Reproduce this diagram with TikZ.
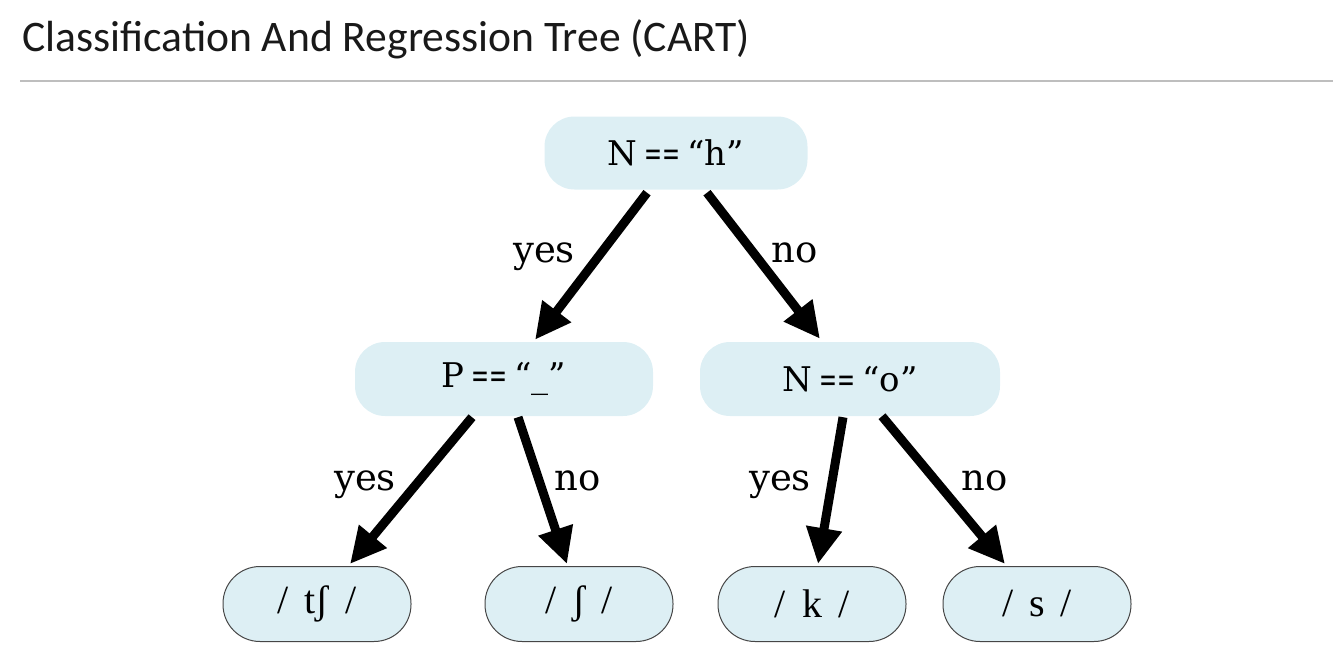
\documentclass[tikz,border=0pt]{standalone}
\usepackage{graphicx}
\usepackage{fontspec}
\setmainfont{DejaVu Serif}
\newfontfamily\titlefont{Carlito}
\newfontfamily\leaffont{Liberation Serif}
\usetikzlibrary{arrows.meta,calc}
\definecolor{nodefill}{RGB}{221,239,244}
\definecolor{leafline}{RGB}{70,70,70}
\definecolor{rulegray}{RGB}{190,190,190}
\newcommand{\eqeq}{\scalebox{0.63}[1]{==}}
\newcommand{\tsp}{\hspace{7pt}}
\newcommand{\lsp}{\hspace{16pt}}
\begin{document}
\begin{tikzpicture}[x=1pt,y=-1pt,
  testbox/.style={fill=nodefill, rounded corners=30pt, minimum height=74pt, inner sep=0pt,
     font=\fontsize{34}{38}\selectfont},
  leafbox/.style={fill=nodefill, draw=leafline, line width=1pt, rounded corners=37pt,
     minimum width=188pt, minimum height=75pt, inner sep=0pt,
     font=\leaffont\fontsize{40}{44}\selectfont},
  edgelabel/.style={anchor=base, inner sep=0pt, font=\fontsize{37}{40}\selectfont},
  arrowline/.style={line width=9pt, -{Triangle[length=36pt,width=34pt]}},
]
\useasboundingbox (0,0) rectangle (1342,665);

\node[anchor=base west, inner sep=0pt, font=\titlefont\fontsize{43.6}{48}\selectfont, text=black!90] (title) at (22,51) {Classification And Regression Tree (CART)};
\draw[rulegray, line width=1.5pt] (20,81) -- (1333,81);

\node[testbox, minimum width=263pt, minimum height=73pt] (top) at (676,153) {N\tsp\eqeq\tsp“h”};
\node[testbox, minimum width=298pt] (pl) at (504,379) {P\tsp\eqeq\tsp“\_”};
\node[testbox, minimum width=300pt] (pr) at (850,379) {N\tsp\eqeq\tsp“o”};

\node[leafbox] (l1) at (317,604) {/\lsp tʃ\lsp/};
\node[leafbox] (l2) at (579,604) {/\lsp ʃ\lsp/};
\node[leafbox] (l3) at (812,604) {/\lsp k\lsp/};
\node[leafbox] (l4) at (1037,604) {/\lsp s\lsp/};

\draw[arrowline] ($(top.south)+(-29,3)$) -- ($(pl.north)+(31,-2)$);
\draw[arrowline] ($(top.south)+(31,3)$) -- ($(pr.north)+(-30,-3)$);
\draw[arrowline] ($(pl.south)+(-32,1)$) -- ($(l1.north)+(33,-2)$);
\draw[arrowline] ($(pl.south)+(14,1)$) -- ($(l2.north)+(-12,-2)$);
\draw[arrowline] ($(pr.south)+(-7,1)$) -- ($(l3.north)+(6,-2)$);
\draw[arrowline] ($(pr.south)+(32,0)$) -- ($(l4.north)+(-32,-2)$);

\node[edgelabel] (y1) at (544,262) {yes};
\node[edgelabel] (n1) at (795,262) {no};
\node[edgelabel] (y2) at (365,490) {yes};
\node[edgelabel] (n2) at (578,490) {no};
\node[edgelabel] (y3) at (780,490) {yes};
\node[edgelabel] (n3) at (985,490) {no};
\end{tikzpicture}
\end{document}
